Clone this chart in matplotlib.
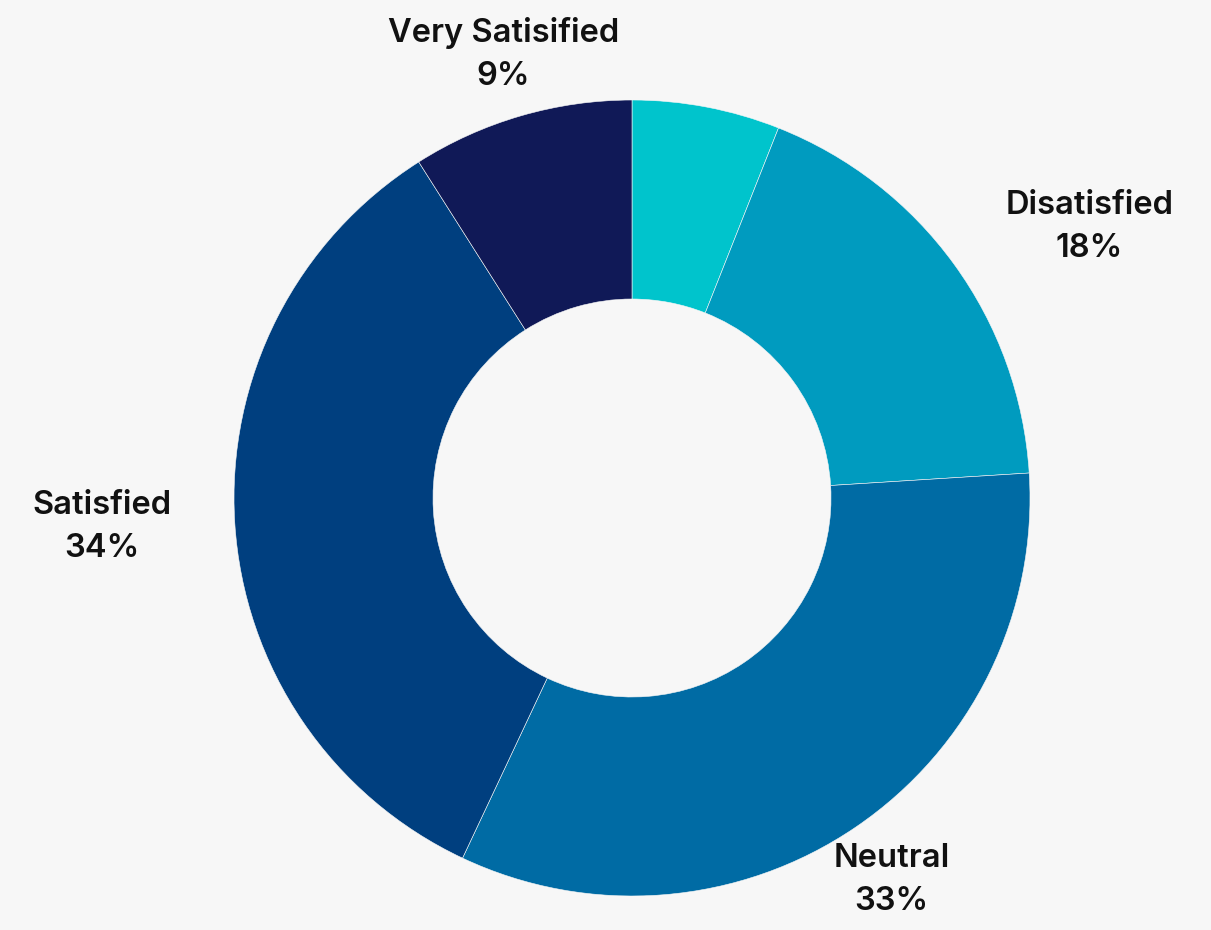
import matplotlib.pyplot as plt
import numpy as np

# Survey satisfaction breakdown (percent of respondents)
categories = ["Very Dissatisfied", "Disatisfied", "Neutral", "Satisfied", "Very Satisified"]
shares = [6, 18, 33, 34, 9]
show_label = [False, True, True, True, True]
colors = ["#00C4CC", "#009BBF", "#006BA4", "#003F7F", "#101957"]

BG = "#F7F7F7"

fig = plt.figure(figsize=(12.11, 9.30), dpi=100, facecolor=BG)
ax = fig.add_axes([0, 0, 1, 1])
ax.set_facecolor(BG)

wedges, _ = ax.pie(
    shares,
    colors=colors,
    startangle=90,
    counterclock=False,
    radius=1.0,
    wedgeprops=dict(width=0.5, edgecolor=BG, linewidth=0.4),
)

# place category / percent labels just outside the ring
for w, name, val, show in zip(wedges, categories, shares, show_label):
    if not show:
        continue
    mid = np.deg2rad((w.theta1 + w.theta2) / 2)
    x, y = 1.16 * np.cos(mid), 1.16 * np.sin(mid)
    if abs(np.cos(mid)) > 0.7:
        ha = "left" if x > 0 else "right"
    else:
        ha = "center"
    ax.text(x, y, f"{name}\n{val}%", ha=ha, va="center", multialignment="center",
            fontsize=23.5, fontweight="semibold", color="#111111",
            family=["Inter", "DejaVu Sans"], linespacing=1.5)

# data limits chosen so the ring centre/radius land where wanted in pixels
px = 398.0
cx, cy = 632.0, 498.0
ax.set_xlim(-cx / px, (1211 - cx) / px)
ax.set_ylim(-(930 - cy) / px, cy / px)
ax.set_aspect("auto")
ax.axis("off")

fig.savefig("out.png", dpi=100, facecolor=BG)
